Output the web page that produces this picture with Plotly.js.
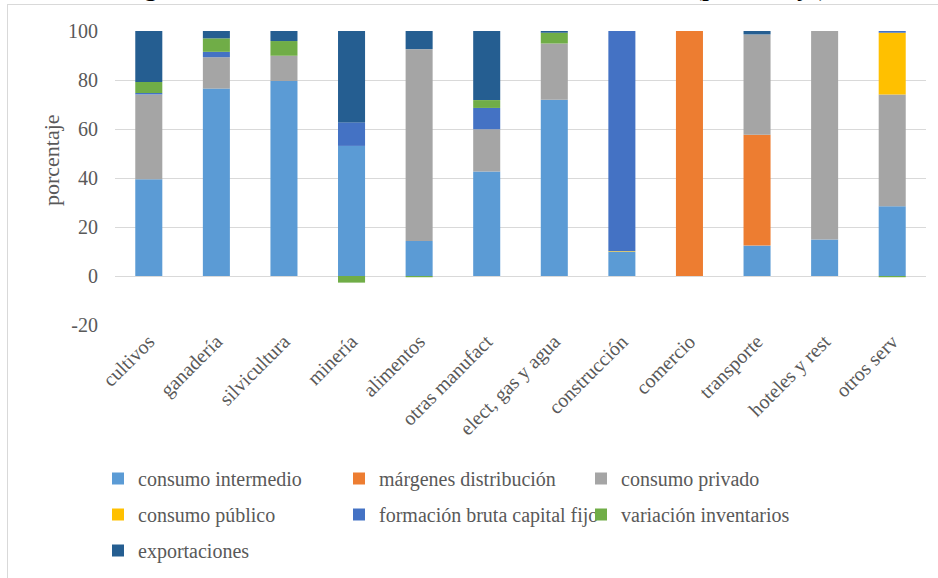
<!DOCTYPE html>
<html>
<head>
<meta charset="utf-8">
<script src="https://cdn.plot.ly/plotly-3.0.1.min.js"></script>
<style>
  html, body { margin: 0; padding: 0; background: #fff; }
  #wrap { position: relative; width: 938px; height: 578px; overflow: hidden; }
  #chart { width: 938px; height: 578px; }
  #frame { position: absolute; left: 7px; top: 4px; width: 960px; height: 600px;
           border-left: 1px solid #D9D9D9; border-top: 1px solid #D9D9D9; pointer-events: none; }
</style>
</head>
<body>
<div id="wrap">
  <div id="chart"></div>
  <div id="frame"></div>
</div>
<script>
const categories = ["cultivos", "ganadería", "silvicultura", "minería", "alimentos", "otras manufact",
  "elect, gas y agua", "construcción", "comercio", "transporte", "hoteles y rest", "otros serv"];

const consumoIntermedio = [39.5, 76.5, 79.6, 53.1, 14.3, 42.7, 71.9, 10.0, 0, 12.4, 14.9, 28.5];
const margenesDistribucion = [0, 0, 0, 0, 0, 0, 0, 0, 100, 45.3, 0, 0];
const consumoPrivado = [34.6, 12.8, 10.3, 0, 78.3, 17.2, 23.0, 0, 0, 40.9, 85.1, 45.6];
const consumoPublico = [0, 0, 0, 0, 0, 0, 0, 0.2, 0, 0, 0, 25.2];
const formacionBruta = [0.6, 2.2, 0, 9.6, 0, 8.7, 0, 89.8, 0, 0, 0, 0.7];
const variacionInventarios = [4.5, 5.5, 6.0, -2.7, -0.5, 3.2, 4.4, 0, 0, 0, 0, -0.5];
const exportaciones = [20.8, 3.0, 4.1, 37.3, 7.4, 28.2, 0.7, 0, 0, 1.4, 0, 0];

const yTicks = [-20, 0, 20, 40, 60, 80, 100];

const serif = "'Liberation Serif', 'Times New Roman', serif";
const grey = "#595959";

const series = [
  {name: "consumo intermedio", y: consumoIntermedio, color: "#5B9BD5", legend: "legend"},
  {name: "márgenes distribución", y: margenesDistribucion, color: "#ED7D31", legend: "legend2"},
  {name: "consumo privado", y: consumoPrivado, color: "#A5A5A5", legend: "legend3"},
  {name: "consumo público", y: consumoPublico, color: "#FFC000", legend: "legend"},
  {name: "formación bruta capital fijo", y: formacionBruta, color: "#4472C4", legend: "legend2"},
  {name: "variación inventarios", y: variacionInventarios, color: "#70AD47", legend: "legend3"},
  {name: "exportaciones", y: exportaciones, color: "#255E91", legend: "legend"}
];

const traces = series.map((s, i) => ({
  type: "bar",
  name: s.name,
  x: categories,
  y: s.y,
  marker: {color: s.color, line: {width: 0}},
  legend: s.legend,
  legendgroup: "g" + i,
  hoverinfo: "x+y+name"
}));

const W = 938, H = 578;
const legendBase = {
  orientation: "v",
  xref: "container", yref: "container",
  xanchor: "left", yanchor: "top",
  y: 1 - 459 / H,
  font: {family: serif, size: 20, color: grey},
  traceorder: "grouped",
  tracegroupgap: 7,
  bgcolor: "rgba(0,0,0,0)",
  borderwidth: 0
};

const layout = {
  width: W, height: H,
  paper_bgcolor: "#fff",
  plot_bgcolor: "#fff",
  margin: {l: 115, r: 12, t: 31, b: 253, autoexpand: false},
  barmode: "relative",
  bargap: 0.6,
  title: {
    text: "Figura 5. Estructura de la demanda final del sector (porcentaje)",
    font: {family: serif, size: 28, color: "#000"},
    xref: "container", yref: "container",
    x: 828 / W, xanchor: "right",
    y: 1, yanchor: "bottom",
    pad: {b: 5}
  },
  xaxis: {
    type: "category",
    tickangle: -45,
    tickfont: {family: serif, size: 20, color: grey},
    showgrid: false,
    showline: false,
    ticks: "",
    automargin: false,
    fixedrange: true
  },
  yaxis: {
    range: [-20, 100],
    tickvals: yTicks,
    ticktext: yTicks.map(String),
    tickfont: {family: serif, size: 20, color: grey},
    ticklabelstandoff: 16,
    gridcolor: "#D9D9D9",
    gridwidth: 1,
    zeroline: true,
    zerolinecolor: "#D9D9D9",
    zerolinewidth: 1,
    showline: false,
    ticks: "",
    automargin: false,
    fixedrange: true
  },
  annotations: [{
    text: "porcentaje",
    xref: "paper", yref: "paper",
    x: (52 - 115) / (W - 115 - 12), y: 1 - (160 - 31) / (H - 31 - 253),
    xanchor: "center", yanchor: "middle",
    textangle: -90,
    showarrow: false,
    font: {family: serif, size: 22, color: grey}
  }],
  showlegend: true,
  legend: Object.assign({}, legendBase, {x: 98 / W}),
  legend2: Object.assign({}, legendBase, {x: 339 / W}),
  legend3: Object.assign({}, legendBase, {x: 581 / W})
};

Plotly.newPlot("chart", traces, layout, {displayModeBar: false, staticPlot: true});
</script>
</body>
</html>
